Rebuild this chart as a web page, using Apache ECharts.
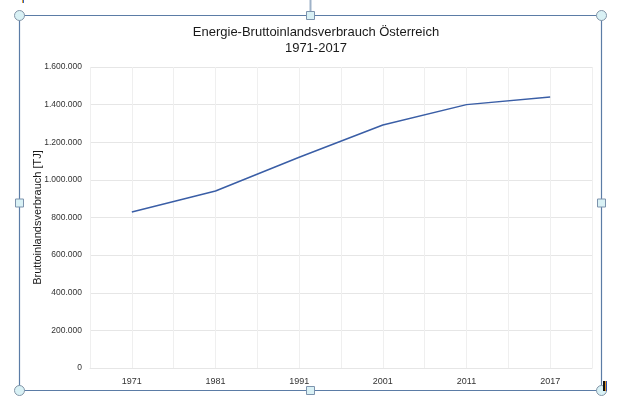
<!DOCTYPE html>
<html>
<head>
<meta charset="utf-8">
<script src="https://cdn.jsdelivr.net/npm/echarts@6/dist/echarts.min.js"></script>
<style>html,body{margin:0;padding:0;background:#fff}#c{width:624px;height:413px}</style>
</head>
<body>
<div id="c"></div>
<script>
const categories = ['1971', '1981', '1991', '2001', '2011', '2017'];
const values = [829000, 941000, 1120000, 1292000, 1400000, 1441000];
const yTicks = [0, 200000, 400000, 600000, 800000, 1000000, 1200000, 1400000, 1600000];
const titleText = 'Energie-Bruttoinlandsverbrauch Österreich\n1971-2017';
const yName = 'Bruttoinlandsverbrauch [TJ]';

const fmt = v => String(v).replace(/\B(?=(\d{3})+(?!\d))/g, '.');
const FONT = "'Liberation Sans', Arial, sans-serif";
const frameCol = '#5b7ca6';
function handleCircle(x, y) {
  return {type: 'circle', shape: {cx: x, cy: y, r: 5}, style: {fill: '#d9f1f5', stroke: '#8496a8', lineWidth: 1}, z: 100};
}
function handleSquare(x, y) {
  return {type: 'rect', shape: {x: x - 4, y: y - 4, width: 8, height: 8}, style: {fill: '#d9f1f5', stroke: '#7d93ad', lineWidth: 1}, z: 100};
}
const chart = echarts.init(document.getElementById('c'), null, {renderer: 'canvas'});
chart.setOption({
  animation: false,
  backgroundColor: '#fff',
  title: {
    text: titleText, left: 311, top: 19, textAlign: 'center',
    textStyle: {fontFamily: FONT, fontSize: 13, fontWeight: 'normal', color: '#1a1a1a', lineHeight: 16}
  },
  grid: {left: 90, right: 32, top: 67, bottom: 45},
  xAxis: [{
    type: 'category', data: categories, boundaryGap: true,
    axisLine: {show: true, lineStyle: {color: '#e6e6e6'}},
    axisTick: {show: false},
    axisLabel: {fontFamily: FONT, fontSize: 9, color: '#333', margin: 9},
    splitLine: {show: true, lineStyle: {color: '#efefef', width: 1}}
  }, {
    type: 'value', min: 0, max: 12, interval: 1, position: 'bottom',
    axisLine: {show: false}, axisTick: {show: false}, axisLabel: {show: false},
    splitLine: {show: true, lineStyle: {color: '#efefef', width: 1}}
  }],
  yAxis: {
    type: 'value', min: yTicks[0], max: yTicks[yTicks.length - 1], interval: yTicks[1] - yTicks[0],
    name: yName, nameLocation: 'middle', nameGap: 47, nameRotate: 90, nameMoveOverlap: false,
    nameTextStyle: {fontFamily: FONT, fontSize: 11, color: '#1a1a1a'},
    axisLine: {show: false}, axisTick: {show: false},
    axisLabel: {fontFamily: FONT, fontSize: 8.5, color: '#333', margin: 8, formatter: v => fmt(v)},
    splitLine: {show: true, lineStyle: {color: '#e6e6e6', width: 1}}
  },
  series: [{
    type: 'line', data: values, xAxisIndex: 0, symbol: 'none',
    lineStyle: {color: '#3a5ea6', width: 1.5}
  }],
  graphic: [
    {type: 'line', shape: {x1: 310.5, y1: 0, x2: 310.5, y2: 15}, style: {stroke: '#9fb2c8', lineWidth: 2}, z: 99},
    {type: 'rect', shape: {x: 19.5, y: 15.5, width: 582, height: 375}, style: {fill: null, stroke: frameCol, lineWidth: 1.2}, z: 99},
    handleCircle(19.5, 15.5), handleCircle(601.5, 15.5), handleCircle(19.5, 390.5), handleCircle(601.5, 390.5),
    handleSquare(310.5, 15.5), handleSquare(310.5, 390.5), handleSquare(19.5, 203), handleSquare(601.5, 203),
    {type: 'rect', shape: {x: 22, y: 0, width: 1, height: 3}, style: {fill: '#e0a030'}, z: 101},
    {type: 'rect', shape: {x: 23, y: 0, width: 1, height: 3}, style: {fill: '#3060c0'}, z: 101},
    {type: 'rect', shape: {x: 603, y: 381, width: 2, height: 10}, style: {fill: '#111'}, z: 101},
    {type: 'rect', shape: {x: 605, y: 381, width: 1, height: 10}, style: {fill: '#e09020'}, z: 101},
    {type: 'rect', shape: {x: 606, y: 381, width: 1, height: 10}, style: {fill: '#3050b0'}, z: 101}
  ]
});
</script>
</body>
</html>
